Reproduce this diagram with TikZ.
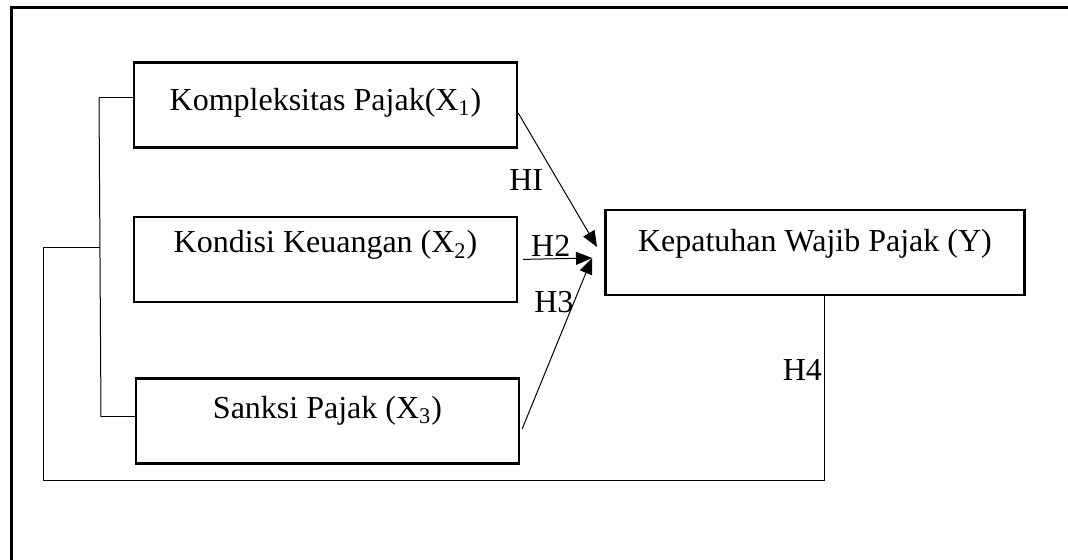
\documentclass[tikz,border=0pt]{standalone}
\usepackage{fontspec}
\setmainfont{Liberation Serif}
\usetikzlibrary{arrows.meta, positioning}
\tikzset{
  var/.style={rectangle, draw=black, line width=1.2pt,
    minimum width=191.5pt, inner sep=0pt,
    text height=#1, text depth=42.5pt-#1,
    font=\fontsize{16}{19}\selectfont},
  var/.default=20pt,
  varY/.style={var=#1, minimum width=209.5pt},
  arrH/.style={->, >={Triangle[length=8pt,width=6.5pt]}, line width=0.5pt},
  ln/.style={line width=0.5pt},
  hlbl/.style={font=\fontsize{16}{19}\selectfont, inner sep=1pt},
}
\begin{document}
\begin{tikzpicture}[x=0.5pt, y=-0.5pt, node distance=33.5pt]
  \useasboundingbox (0,0) rectangle (1068,560);
  \draw[line width=1.5pt] (11,560) -- (11,8) -- (1068,8);

  \node[var=24pt] (k1) at (325.5,105) {Kompleksitas Pajak(X\textsubscript{1})};

  \node[var=18pt, below=33.5pt of k1] (k2) {Kondisi Keuangan (X\textsubscript{2})};

  \node[var=20pt, below=37pt of k2, xshift=1pt] (k3) {Sanksi Pajak (X\textsubscript{3})};

  \node[varY=21pt, right=43pt of k2, yshift=3.5pt] (ky) {Kepatuhan Wajib Pajak (Y)};

  \coordinate (h1tip) at (597,247);
  \coordinate (h2tip) at (592,258);
  \coordinate (btop) at (99,98);
  \coordinate (bbot) at (101,417);
  \coordinate (join) at (100,248);
  \coordinate (corner) at (43,480);

  \draw[arrH] ([yshift=-4pt]k1.east) -- node[hlbl, left, pos=.5, xshift=-6pt] {HI} (h1tip);
  \draw[arrH] ([xshift=2.5pt]k2.east) -- node[hlbl, above, pos=.4] {H2} (h2tip);
  \draw[arrH] ([xshift=1pt, yshift=-4pt]k3.east) -- node[hlbl, left, pos=.74, inner sep=0pt] {H3} (h2tip);
  \draw[ln] (btop) -- (bbot);
  \draw[ln] (btop) -- (btop -| k1.west);
  \draw[ln] ([yshift=2pt]k3.west) -- ([yshift=2pt]k3.west -| bbot);
  \draw[ln] ([xshift=4.75pt]ky.south) |- node[hlbl, left, pos=.2] {H4} (corner) |- (join);
\end{tikzpicture}
\end{document}
